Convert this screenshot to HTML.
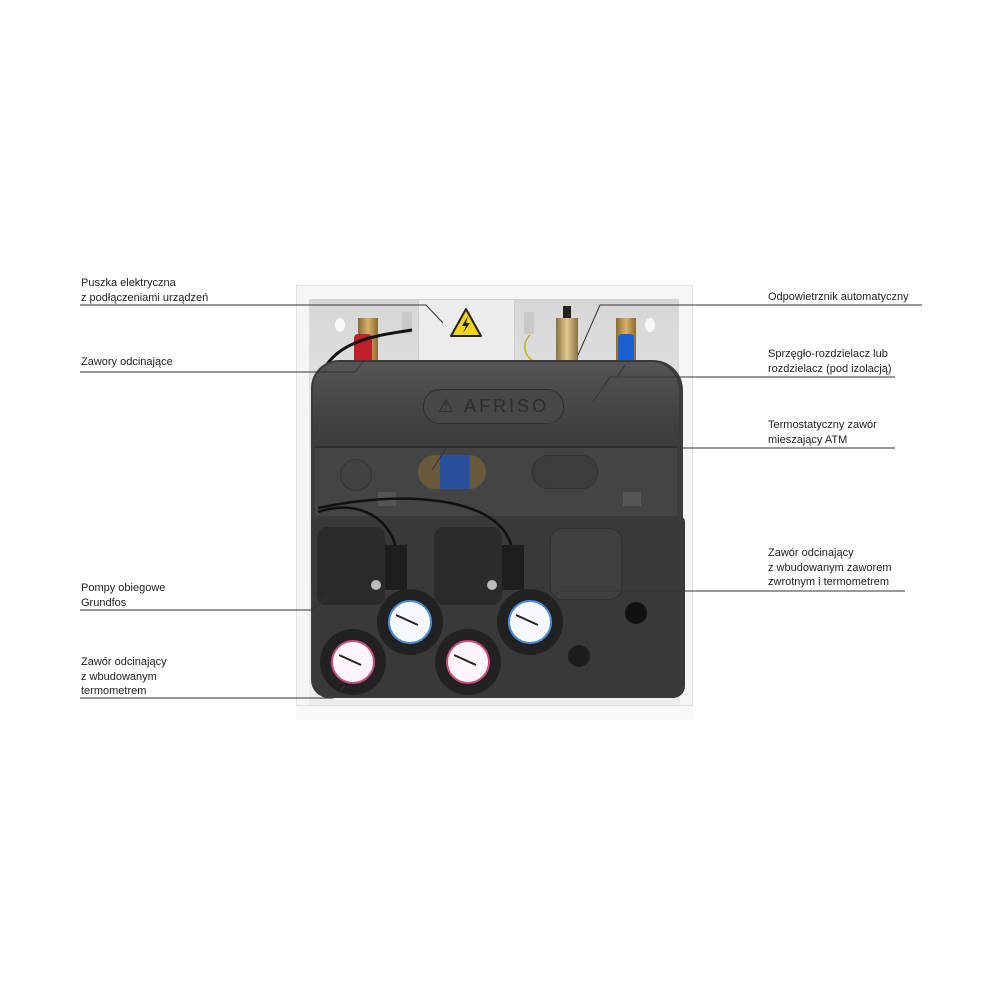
<!DOCTYPE html>
<html><head><meta charset="utf-8"><style>
html,body{margin:0;padding:0;background:#fff;}
body{width:1000px;height:1000px;position:relative;overflow:hidden;font-family:"Liberation Sans","DejaVu Sans",sans-serif;}
.a{position:absolute;}
.t{position:absolute;font-size:11px;line-height:14.5px;color:#222;white-space:nowrap;}
</style></head><body>
<!-- cabinet -->
<div class="a" style="left:296px;top:285px;width:397px;height:434px;background:#f5f5f5;border:1px solid #e2e2e2;box-sizing:border-box;"></div>
<div class="a" style="left:309px;top:299px;width:370px;height:412px;background:linear-gradient(#d6d6d6,#e4e4e4 30%,#ececec);"></div>
<div class="a" style="left:296px;top:705px;width:397px;height:14px;background:#f8f8f8;border-top:1px solid #ddd;"></div>
<!-- electrical box -->
<div class="a" style="left:418px;top:300px;width:95px;height:68px;background:#ececec;border-left:1px solid #ccc;border-right:1px solid #ccc;"></div>
<svg class="a" style="left:449px;top:307px" width="34" height="32" viewBox="0 0 34 32"><polygon points="17,2 32,29 2,29" fill="#f2d21c" stroke="#222" stroke-width="2" stroke-linejoin="round"/><polygon points="19,9 13,19 17,19 14,26 21,16 17,16" fill="#222"/></svg>
<div class="a" style="left:335px;top:318px;width:10px;height:14px;background:#f8f8f8;border-radius:50%;"></div>
<div class="a" style="left:645px;top:318px;width:10px;height:14px;background:#f8f8f8;border-radius:50%;"></div>
<div class="a" style="left:402px;top:312px;width:10px;height:22px;background:#c8c8c8;"></div>
<div class="a" style="left:524px;top:312px;width:10px;height:22px;background:#c8c8c8;"></div>
<!-- valves -->
<div class="a" style="left:358px;top:318px;width:20px;height:46px;background:linear-gradient(90deg,#8a6a30,#d8b06a,#8a6a30);"></div>
<div class="a" style="left:354px;top:334px;width:18px;height:32px;background:#c0202a;border-radius:4px;"></div>
<div class="a" style="left:616px;top:318px;width:20px;height:46px;background:linear-gradient(90deg,#8a6a30,#d8b06a,#8a6a30);"></div>
<div class="a" style="left:618px;top:334px;width:16px;height:32px;background:#1a5fd0;border-radius:4px;"></div>
<!-- air vent -->
<div class="a" style="left:563px;top:306px;width:8px;height:14px;background:#222;"></div>
<div class="a" style="left:556px;top:318px;width:22px;height:48px;background:linear-gradient(90deg,#8a7040,#e0c890,#8a7040);"></div>
<svg class="a" style="left:0;top:0" width="1000" height="1000"><path d="M530,335 C520,345 525,360 540,364" stroke="#c8b020" stroke-width="1.5" fill="none"/><path d="M412,330 C380,335 330,340 320,380" stroke="#111" stroke-width="3" fill="none"/></svg>
<!-- insulation -->
<div class="a" style="left:311px;top:360px;width:372px;height:338px;background:#3b3b3b;border-radius:28px 30px 12px 18px;"></div>
<div class="a" style="left:313px;top:362px;width:366px;height:84px;background:linear-gradient(#555,#444 60%,#3c3c3c);border-radius:26px 28px 6px 6px;"></div>
<div class="a" style="left:423px;top:389px;width:139px;height:33px;background:#474747;border:1px solid #2d2d2d;border-radius:17px;color:#2c2c2c;font-size:18px;line-height:33px;text-align:center;letter-spacing:3px;">⚠ AFRISO</div>
<div class="a" style="left:315px;top:446px;width:362px;height:70px;background:#444;border-top:2px solid #2e2e2e;"></div>
<div class="a" style="left:418px;top:455px;width:68px;height:34px;background:#6a5a3c;border-radius:17px;"></div>
<div class="a" style="left:440px;top:455px;width:30px;height:34px;background:#2a4f9c;"></div>
<div class="a" style="left:532px;top:455px;width:64px;height:32px;background:#3c3c3c;border-radius:16px;border:1px solid #333;"></div>
<div class="a" style="left:340px;top:459px;width:30px;height:30px;background:#424242;border-radius:50%;border:1px solid #333;"></div>
<div class="a" style="left:378px;top:492px;width:18px;height:14px;background:#555;"></div>
<div class="a" style="left:623px;top:492px;width:18px;height:14px;background:#555;"></div>
<div class="a" style="left:313px;top:516px;width:372px;height:182px;background:#393939;border-radius:6px 6px 12px 18px;"></div>
<div class="a" style="left:550px;top:528px;width:70px;height:70px;background:#3f3f3f;border:1px solid #303030;border-radius:12px;"></div>
<!-- pumps -->
<svg class="a" style="left:0;top:0" width="1000" height="1000"><g stroke="#111" stroke-width="2.5" fill="none"><path d="M318,512 C360,498 390,520 396,548"/><path d="M318,508 C400,490 500,495 512,548"/></g></svg>
<div class="a" style="left:317px;top:527px;width:68px;height:78px;background:#2b2b2b;border-radius:10px;"></div>
<div class="a" style="left:385px;top:545px;width:22px;height:45px;background:#1e1e1e;"></div>
<div class="a" style="left:434px;top:527px;width:68px;height:78px;background:#2b2b2b;border-radius:10px;"></div>
<div class="a" style="left:502px;top:545px;width:22px;height:45px;background:#1e1e1e;"></div>
<div class="a" style="left:371px;top:580px;width:10px;height:10px;background:#bbb;border-radius:50%;"></div>
<div class="a" style="left:487px;top:580px;width:10px;height:10px;background:#bbb;border-radius:50%;"></div>
<!-- gauges -->
<div class="a" style="left:377px;top:589px;width:66px;height:66px;background:#222;border-radius:50%;"></div>
<div class="a" style="left:388px;top:600px;width:40px;height:40px;background:#f5f8ff;border:2px solid #4a8ee0;border-radius:50%;"></div>
<div class="a" style="left:497px;top:589px;width:66px;height:66px;background:#222;border-radius:50%;"></div>
<div class="a" style="left:508px;top:600px;width:40px;height:40px;background:#f5f8ff;border:2px solid #4a8ee0;border-radius:50%;"></div>
<div class="a" style="left:320px;top:629px;width:66px;height:66px;background:#222;border-radius:50%;"></div>
<div class="a" style="left:331px;top:640px;width:40px;height:40px;background:#fff5fa;border:2px solid #d04a80;border-radius:50%;"></div>
<div class="a" style="left:435px;top:629px;width:66px;height:66px;background:#222;border-radius:50%;"></div>
<div class="a" style="left:446px;top:640px;width:40px;height:40px;background:#fff5fa;border:2px solid #d04a80;border-radius:50%;"></div>
<svg class="a" style="left:0;top:0" width="1000" height="1000"><g stroke="#222" stroke-width="2"><line x1="396" y1="615" x2="418" y2="625"/><line x1="516" y1="615" x2="538" y2="625"/><line x1="339" y1="655" x2="361" y2="665"/><line x1="454" y1="655" x2="476" y2="665"/></g></svg>
<div class="a" style="left:625px;top:602px;width:22px;height:22px;background:#111;border-radius:50%;"></div>
<div class="a" style="left:568px;top:645px;width:22px;height:22px;background:#1c1c1c;border-radius:50%;"></div>
<!-- leader lines -->
<svg class="a" style="left:0;top:0" width="1000" height="1000"><g stroke="#333" stroke-width="1" fill="none">
<polyline points="80,305 426,305 443,323"/>
<polyline points="80,372 355,372 364,360"/>
<polyline points="80,610 312,610 328,597"/>
<polyline points="80,698 333,698 345,686"/>
<polyline points="922,305 600,305 578,355"/>
<polyline points="895,377 610,377 593,402"/>
<line x1="895" y1="448" x2="680" y2="448"/>
<line x1="447" y1="447" x2="432" y2="470"/>
<polyline points="905,591 560,591 546,605"/>
<line x1="625" y1="365" x2="617" y2="377"/>
</g></svg>
<!-- labels -->
<div class="t" style="left:81px;top:276px;">Puszka elektryczna<br>z podłączeniami urządzeń</div>
<div class="t" style="left:81px;top:355px;">Zawory odcinające</div>
<div class="t" style="left:81px;top:581px;">Pompy obiegowe<br>Grundfos</div>
<div class="t" style="left:81px;top:655px;">Zawór odcinający<br>z wbudowanym<br>termometrem</div>
<div class="t" style="left:768px;top:290px;">Odpowietrznik automatyczny</div>
<div class="t" style="left:768px;top:347px;">Sprzęgło-rozdzielacz lub<br>rozdzielacz (pod izolacją)</div>
<div class="t" style="left:768px;top:418px;">Termostatyczny zawór<br>mieszający ATM</div>
<div class="t" style="left:768px;top:546px;">Zawór odcinający<br>z wbudowanym zaworem<br>zwrotnym i termometrem</div>
</body></html>
